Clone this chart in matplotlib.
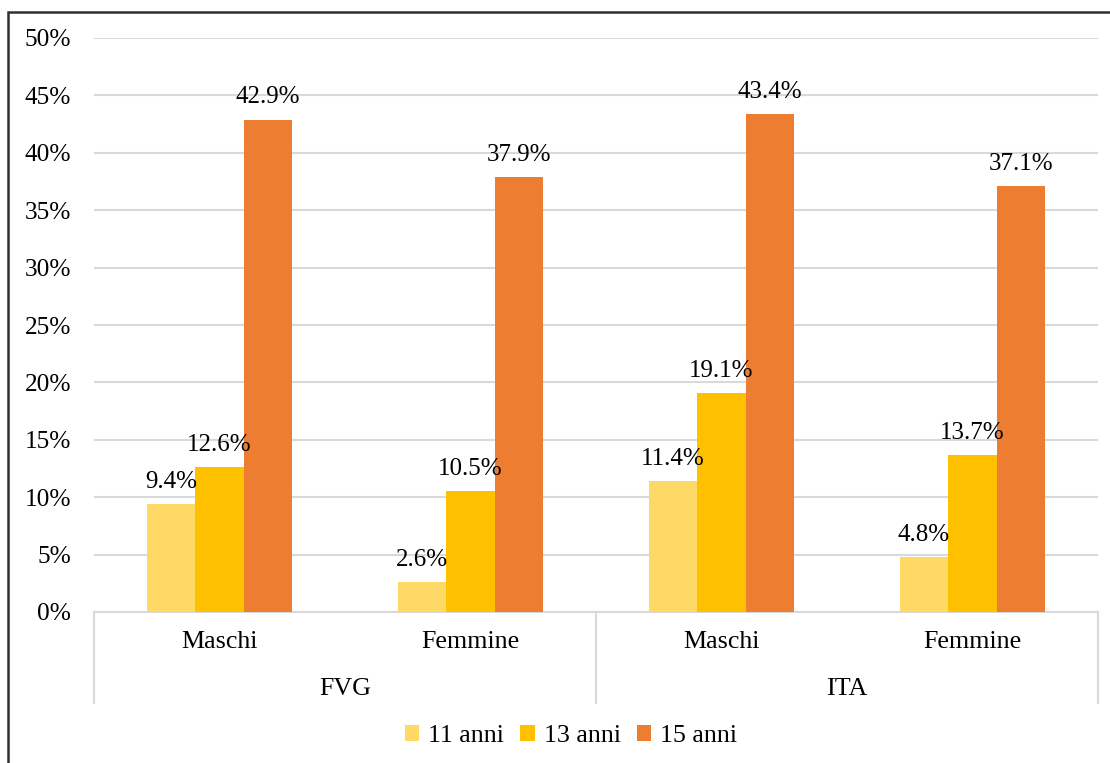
import matplotlib
matplotlib.use("Agg")
import matplotlib.pyplot as plt
from matplotlib.patches import Rectangle
import numpy as np

# Data
groups = ["FVG", "ITA"]
genders = ["Maschi", "Femmine"]
series_names = ["11 anni", "13 anni", "15 anni"]
age11 = [9.4, 2.6, 11.4, 4.8]
age13 = [12.6, 10.5, 19.1, 13.7]
age15 = [42.9, 37.9, 43.4, 37.1]
yticks = [0, 5, 10, 15, 20, 25, 30, 35, 40, 45, 50]

colors = ["#FFD966", "#FFC000", "#ED7D31"]
grid_col = "#D9D9D9"

plt.rcParams["font.family"] = ["Liberation Serif", "DejaVu Serif"]

W, H = 1110, 763
fig = plt.figure(figsize=(W / 100, H / 100), dpi=100)

left, right, top, bottom = 94, 1098, 38, 612
ax = fig.add_axes([left / W, (H - bottom) / H, (right - left) / W, (bottom - top) / H])

x = np.arange(len(age11))
bw = 0.193
for i, (vals, col, name) in enumerate(zip([age11, age13, age15], colors, series_names)):
    pos = x + (i - 1) * bw
    bars = ax.bar(pos, vals, width=bw, color=col, label=name, zorder=3)
    for b, v in zip(bars, vals):
        ax.annotate(f"{v:.1f}%", (b.get_x() + b.get_width() / 2, v),
                    xytext=(0, 8), textcoords="offset points",
                    ha="center", va="bottom", fontsize=18, color="#000000", zorder=4)

ax.set_xlim(-0.5, len(age11) - 0.5)
ax.set_ylim(0, 50)
ax.set_yticks(yticks)
ax.set_yticklabels([f"{t}%" for t in yticks], fontsize=18.3)
ax.tick_params(axis="y", length=0, pad=16.5)
ax.set_xticks([])
ax.yaxis.grid(True, color=grid_col, linewidth=1.5, zorder=0)
for s in ["left", "right", "top"]:
    ax.spines[s].set_visible(False)
ax.spines["bottom"].set_color(grid_col)
ax.spines["bottom"].set_linewidth(1.5)

# Multi-level category axis
trans = ax.get_xaxis_transform()
y_end = -(703 - bottom) / (bottom - top)
for xv in [-0.5, 1.5, 3.5]:
    ax.plot([xv, xv], [0, y_end], color=grid_col, linewidth=1.5,
            transform=trans, clip_on=False)
y_lvl1 = -(642 - bottom) / (bottom - top)
y_lvl2 = -(689 - bottom) / (bottom - top)
for i in range(len(age11)):
    ax.text(x[i], y_lvl1, genders[i % 2], transform=trans, ha="center",
            va="center", fontsize=18.7)
for g, name in enumerate(groups):
    ax.text(2 * g + 0.5, y_lvl2, name, transform=trans, ha="center",
            va="center", fontsize=18.7)

# Legend
handles, labels = ax.get_legend_handles_labels()
fig.legend(handles, labels, loc="center", bbox_to_anchor=(571 / W, 27 / H),
           ncol=3, frameon=False, fontsize=18.7, handlelength=0.55,
           handleheight=0.55, handletextpad=0.35, columnspacing=0.63)

# Outer frame
fig.patches.append(Rectangle((8 / W, -0.1), 1.2, (H - 12) / H + 0.1,
                             transform=fig.transFigure, fill=False,
                             edgecolor="#303030", linewidth=1.8))

fig.savefig("out.png", dpi=100)
